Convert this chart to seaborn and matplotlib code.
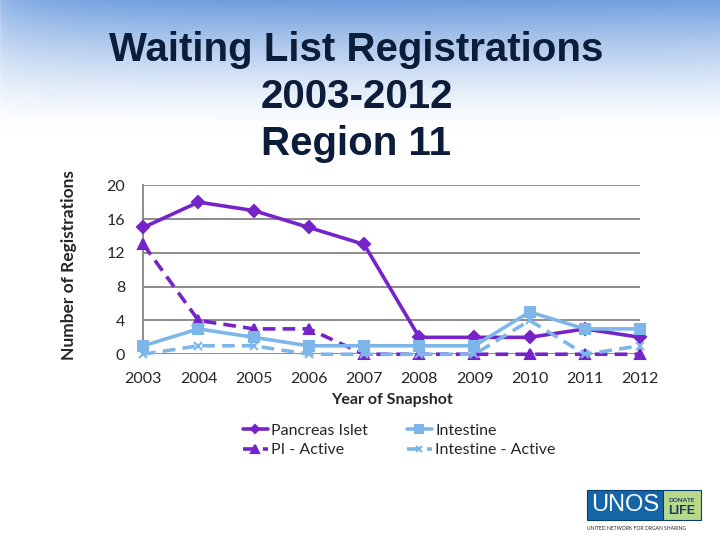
import numpy as np
import pandas as pd
import seaborn as sns
import matplotlib.pyplot as plt
from matplotlib.patches import Rectangle

# data
years = [2003, 2004, 2005, 2006, 2007, 2008, 2009, 2010, 2011, 2012]
pancreas_islet = [15, 18, 17, 15, 13, 2, 2, 2, 3, 2]
pi_active = [13, 4, 3, 3, 0, 0, 0, 0, 0, 0]
intestine = [1, 3, 2, 1, 1, 1, 1, 5, 3, 3]
intestine_active = [0, 1, 1, 0, 0, 0, 0, 4, 0, 1]
series_names = ["Pancreas Islet", "PI - Active", "Intestine", "Intestine - Active"]
y_ticks = [0, 4, 8, 12, 16, 20]

series_values = [pancreas_islet, pi_active, intestine, intestine_active]

purple = "#7424c8"
lblue = "#7fb6ea"
colors = [purple, purple, lblue, lblue]
markers = ["D", "^", "s", "x"]
msizes = [6, 7, 7, 6]
line_dash = ["-", (0, (3.5, 2)), "-", (0, (3.5, 2))]

sns.set_style("white")
plt.rcParams["font.family"] = ["Lato", "DejaVu Sans"]

fig = plt.figure(figsize=(7.2, 5.4), dpi=100)

# slide background: blue at top fading to white
bg = fig.add_axes([0, 0, 1, 1], zorder=-10)
h, w = 540, 720
yy = np.linspace(0, 1, h)[:, None]
xx = np.linspace(0, 1, w)[None, :]
fade = np.clip(1 - yy / 0.24, 0, 1) ** 1.4 * (0.5 + 0.5 * xx ** 0.3 * (1 - 0.45 * xx))
fade = np.clip(fade, 0, 1)
top = np.array([0.30, 0.53, 0.84])
img = 1 - fade[..., None] * (1 - top[None, None, :])
bg.imshow(img, aspect="auto", extent=[0, 1, 0, 1])
bg.set_axis_off()

ax = fig.add_axes([0.199, 0.344, 0.69, 0.313])
ax.patch.set_alpha(0)

for name, vals, c, m, ms, ls in zip(series_names, series_values, colors,
                                     markers, msizes, line_dash):
    d = pd.DataFrame({"year": years, "value": vals})
    sns.lineplot(data=d, x="year", y="value", color=c, marker=m, markersize=ms,
                 markeredgecolor=c, markeredgewidth=1.5, linewidth=2.6,
                 linestyle=ls, label=name, ax=ax, clip_on=False, zorder=3)

ax.set_xlim(2003, 2012)
ax.set_ylim(0, 20)
ax.set_yticks(y_ticks)
ax.set_xticks(years)
ax.yaxis.grid(True, color="#8c8c8c", linewidth=1.4)
ax.xaxis.grid(False)
for s in ["top", "right", "bottom"]:
    ax.spines[s].set_visible(False)
ax.spines["left"].set_color("#8c8c8c")
ax.spines["left"].set_linewidth(1.4)
ax.tick_params(axis="y", length=5, color="#8c8c8c", width=1.4, labelsize=11.5, pad=8)
ax.tick_params(axis="x", length=0, labelsize=11.5, pad=13)
ax.set_xlabel("Year of Snapshot", fontsize=11.5, fontweight="bold", labelpad=5)
ax.set_ylabel("")
fig.text(0.096, 0.509, "Number of Registrations", rotation=90, fontsize=12.5,
         fontweight="bold", ha="center", va="center")

leg = ax.legend(loc="upper center", bbox_to_anchor=(0.515, -0.325), ncol=2,
                frameon=False, fontsize=11.5, handlelength=1.6, handletextpad=0.2,
                columnspacing=2.4, labelspacing=0.35, markerscale=0.75)

fig.text(0.495, 0.82, "Waiting List Registrations\n2003-2012\nRegion 11",
         ha="center", va="center", fontsize=29, fontweight="bold",
         color="#0c1d3a", family="Liberation Sans", linespacing=1.3)

# UNOS logo approximation
fig.patches.append(Rectangle((0.815, 0.037), 0.106, 0.056, transform=fig.transFigure,
                             facecolor="#1565a8", edgecolor="#0a3c6e", lw=0.8))
fig.patches.append(Rectangle((0.921, 0.037), 0.052, 0.056, transform=fig.transFigure,
                             facecolor="#b8d98c", edgecolor="#0a3c6e", lw=0.8))
fig.text(0.868, 0.065, "UNOS", color="white", fontsize=17, ha="center", va="center",
         family="Liberation Sans")
fig.text(0.947, 0.074, "DONATE", color="#1a3a5a", fontsize=4.5, ha="center",
         va="center", fontweight="bold")
fig.text(0.947, 0.053, "LIFE", color="#1a3a5a", fontsize=9, ha="center",
         va="center", fontweight="bold", family="Liberation Sans")
fig.text(0.815, 0.022, "UNITED NETWORK FOR ORGAN SHARING", fontsize=3.6,
         ha="left", va="center", color="#222222")

fig.savefig("out.png", dpi=100)
